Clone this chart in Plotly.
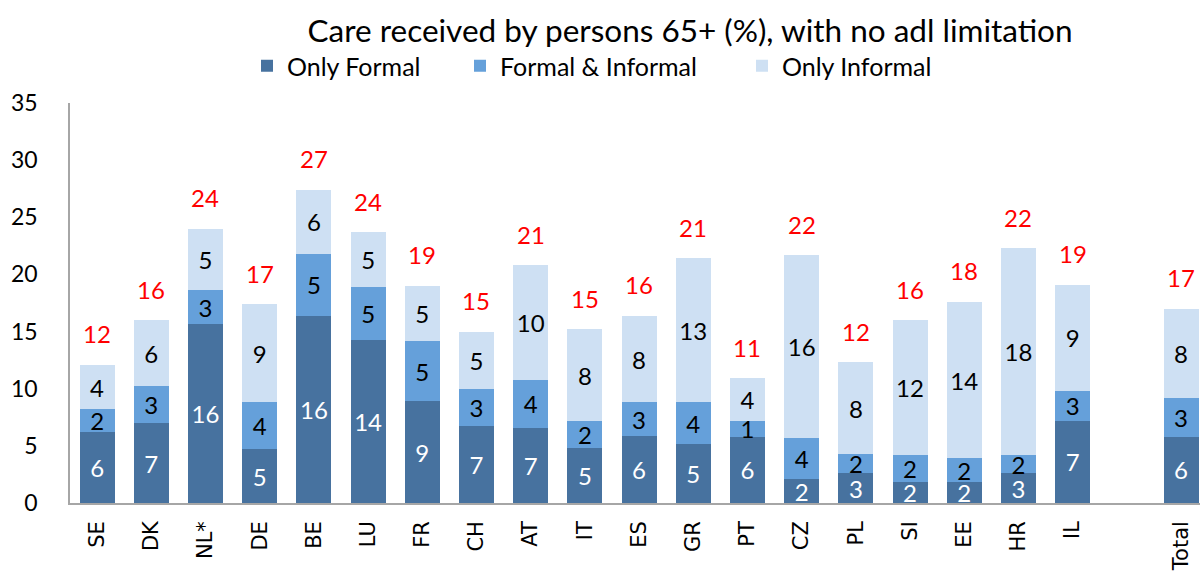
import plotly.graph_objects as go

countries = ["SE", "DK", "NL*", "DE", "BE", "LU", "FR", "CH", "AT", "IT",
             "ES", "GR", "PT", "CZ", "PL", "SI", "EE", "HR", "IL", "Total"]
only_formal = [6.2, 7.0, 15.7, 4.7, 16.4, 14.3, 8.9, 6.7, 6.6, 4.8,
               5.9, 5.2, 5.8, 2.1, 2.6, 1.8, 1.8, 2.6, 7.2, 5.8]
formal_informal = [2.0, 3.2, 2.9, 4.1, 5.4, 4.6, 5.3, 3.3, 4.2, 2.4,
                   2.9, 3.6, 1.4, 3.6, 1.7, 2.4, 2.1, 1.6, 2.6, 3.4]
only_informal = [3.9, 5.8, 5.4, 8.6, 5.6, 4.8, 4.8, 5.0, 10.0, 8.0,
                 7.6, 12.6, 3.7, 16.0, 8.0, 11.8, 13.7, 18.1, 9.3, 7.8]
y_ticks = [0, 5, 10, 15, 20, 25, 30, 35]

series_names = ["Only Formal", "Formal & Informal", "Only Informal"]
colors = ["#47729F", "#65A0DA", "#CEE0F3"]
label_colors = ["white", "black", "black"]

cat_order = countries[:-1] + [" "] + ["Total"]


def rnd(v):
    return str(int(v + 0.5))


totals = [a + b + c for a, b, c in zip(only_formal, formal_informal, only_informal)]

fig = go.Figure()
legends = ["legend", "legend2", "legend3"]
for i, (vals, name) in enumerate(zip([only_formal, formal_informal, only_informal], series_names)):
    fig.add_trace(go.Bar(
        x=countries, y=vals, name=name,
        marker=dict(color=colors[i], line=dict(width=0)),
        text=[rnd(v) for v in vals],
        textposition="inside", insidetextanchor="middle",
        textangle=0, constraintext="none",
        textfont=dict(family="Lato", size=24, color=label_colors[i]),
        legend=legends[i], showlegend=True,
        hoverinfo="skip",
    ))

for c, t in zip(countries, totals):
    fig.add_annotation(x=c, y=t, text=rnd(t), showarrow=False,
                       yanchor="middle", yshift=31,
                       font=dict(family="Lato", size=24, color="#FF0000"))

legend_x = [247, 460, 742]
leg_common = dict(orientation="h", xref="container", yref="container",
                  y=1 - 66 / 574, yanchor="middle", xanchor="left",
                  bgcolor="rgba(0,0,0,0)", borderwidth=0,
                  font=dict(family="Lato", size=25, color="black"))
fig.update_layout(
    barmode="stack",
    bargap=0.354,
    showlegend=True,
    width=1200, height=574,
    margin=dict(l=70.4, r=0, t=102.7, b=70.7, autoexpand=False),
    paper_bgcolor="white", plot_bgcolor="white",
    title=dict(text="Care received by persons 65+ (%), with no adl limitation",
               x=690 / 1200, xanchor="center", xref="container",
               y=1 - 31 / 574, yanchor="middle", yref="container",
               font=dict(family="Lato", size=31.5, color="black")),
    legend=dict(x=legend_x[0] / 1200, **leg_common),
    legend2=dict(x=legend_x[1] / 1200, **leg_common),
    legend3=dict(x=legend_x[2] / 1200, **leg_common),
    xaxis=dict(type="category", categoryorder="array", categoryarray=cat_order,
               range=[-0.5, 20.35], tickangle=-90, automargin=False,
               showline=True, linecolor="#A6A6A6", linewidth=1.5,
               ticks="", showgrid=False, ticklabelstandoff=8,
               tickfont=dict(family="DejaVu Sans", size=21, color="black")),
    yaxis=dict(range=[0, 35], tickvals=y_ticks, showgrid=False, automargin=False,
               showline=True, linecolor="#A6A6A6", linewidth=1.5,
               ticks="", zeroline=False, ticklabelstandoff=26,
               tickfont=dict(family="Lato", size=23, color="black")),
)

fig.write_html("out.html", config={"displayModeBar": False},
               post_script="document.body.style.margin='0';document.body.style.overflow='hidden';")
